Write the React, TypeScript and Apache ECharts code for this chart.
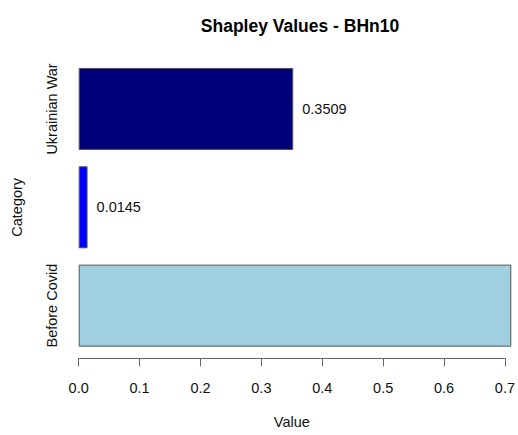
import React, { useEffect, useRef } from "react";
import * as echarts from "echarts";

const categories = ["Before Covid", "Covid", "Ukrainian War"];
const values = [0.7075, 0.0145, 0.3509];
const barColors = ["#A0CFE0", "#0000FF", "#00007A"];
const tickValues = [0, 0.1, 0.2, 0.3, 0.4, 0.5, 0.6, 0.7];
const visibleMax = 0.718;
const titleText = "Shapley Values - BHn10";
const xName = "Value";
const yName = "Category";

const FONT = "'Liberation Sans', Arial, Helvetica, sans-serif";

export default function App() {
  const ref = useRef<HTMLDivElement>(null);
  useEffect(() => {
    if (!ref.current) return;
    const chart = echarts.init(ref.current, undefined, { renderer: "svg" });
    const left = 78.7;
    const pxPerUnit = 428 / 0.7;
    const axisMax = tickValues[tickValues.length - 1];
    const grid1Width = visibleMax * pxPerUnit;
    const grid2Width = axisMax * pxPerUnit;
    chart.setOption({
      animation: false,
      title: {
        text: titleText,
        left: 295,
        top: 12,
        textAlign: "center",
        textStyle: { fontFamily: FONT, fontSize: 17.5, fontWeight: "bold", color: "#000" },
      },
      grid: [
        { left, top: 59.8, height: 295, width: grid1Width },
        { left, top: 300, height: 58.3, width: grid2Width },
      ],
      xAxis: [
        {
          gridIndex: 0,
          type: "value",
          min: 0,
          max: visibleMax,
          show: false,
        },
        {
          gridIndex: 1,
          type: "value",
          min: 0,
          max: axisMax,
          interval: 0.1,
          position: "bottom",
          name: xName,
          nameLocation: "middle",
          nameGap: 56,
          nameTextStyle: { fontFamily: FONT, fontSize: 14.5, color: "#111" },
          axisLine: { show: true, lineStyle: { color: "#666", width: 1 } },
          axisTick: { show: true, length: 8, lineStyle: { color: "#666", width: 1 } },
          axisLabel: {
            margin: 22,
            fontFamily: FONT,
            fontSize: 14.5,
            color: "#111",
            formatter: (v: number) => v.toFixed(1),
          },
          splitLine: { show: false },
        },
      ],
      yAxis: [
        {
          gridIndex: 0,
          type: "category",
          data: categories,
          name: yName,
          nameLocation: "middle",
          nameRotate: 90,
          nameGap: 54,
          nameTextStyle: { fontFamily: FONT, fontSize: 14.5, color: "#111" },
          axisLine: { show: false },
          axisTick: { show: false },
          axisLabel: {
            rotate: 90,
            margin: 19.5,
            fontFamily: FONT,
            fontSize: 14.5,
            color: "#111",
          },
          splitLine: { show: false },
        },
        {
          gridIndex: 1,
          type: "value",
          min: 0,
          max: 1,
          show: false,
        },
      ],
      series: [
        {
          type: "bar",
          xAxisIndex: 0,
          yAxisIndex: 0,
          barWidth: 82,
          data: values.map((v, i) => ({
            value: v,
            itemStyle: { color: barColors[i], borderColor: "#555", borderWidth: 1 },
            label: { show: v <= axisMax },
          })),
          label: {
            show: true,
            position: "right",
            distance: 9,
            fontFamily: FONT,
            fontSize: 14.5,
            color: "#111",
            formatter: (p: any) => Number(p.value).toFixed(4),
          },
        },
      ],
    });
    return () => chart.dispose();
  }, []);
  return (
    <div
      ref={ref}
      style={{ position: "absolute", left: 0, top: 0, width: 518, height: 435, background: "#fff" }}
    />
  );
}
